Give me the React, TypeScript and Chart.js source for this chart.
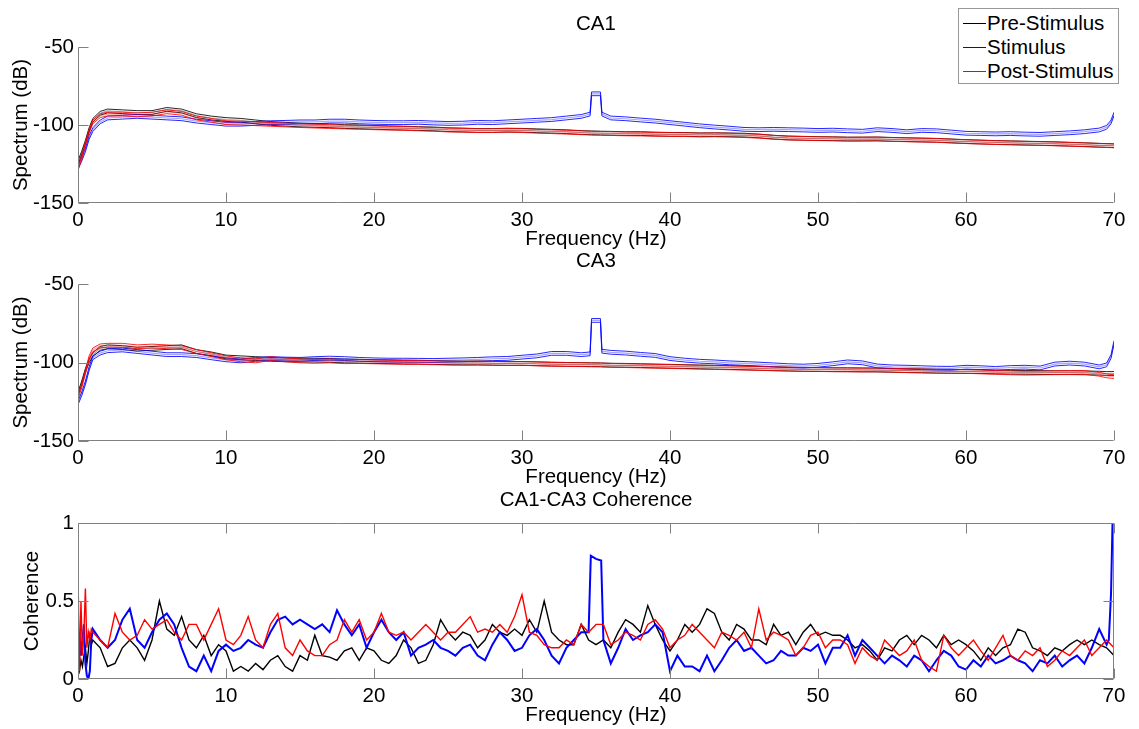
import React, { useEffect, useRef } from 'react';
import { Chart, registerables } from 'chart.js';

Chart.register(...registerables);

// ---------- data ----------
const SERIES_NAMES = ['Pre-Stimulus', 'Stimulus', 'Post-Stimulus'];
const SERIES_COLORS = ['#000000', '#0000ff', '#ff0000'];

const range = (a: number, b: number) => { const r: number[] = []; for (let v = a; v <= b; v++) r.push(v); return r; };

// spectrum frequency grid (Hz)
const SPEC_FREQ = [0, 0.25, 0.5, 0.75, 1, 1.5, 2, ...range(3, 34), 34.6, 34.7, 35.3, 35.4, ...range(36, 69), 69.5, 69.8, 70];

// CA1 spectra (dB)
const CA1_PRE = [
  -124, -118, -111, -103, -97, -92.5, -91,
  -91.5, -92, -92, -90, -91, -94, -95.5, -96.5, -97, -98,
  -99, -99.5, -100, -100.3, -100.5, -101, -101.2, -101.5, -101.8, -102,
  -102.3, -102.5, -103, -103.2, -103.5, -103.5, -103.3, -103.4, -103.7, -104,
  -104.3, -104.8, -105, -105, -105.2, -105.2, -105.3, -105.5, -105.5, -105.8,
  -106, -106, -106.3, -106.2, -106.3, -106.5, -107, -107.8, -108.3, -108.5,
  -108.7, -108.8, -109, -109, -108.9, -109.2, -109.4, -109.6, -109.8, -110.2,
  -110.6, -110.9, -111.2, -111.4, -111.6, -111.8, -112, -112.3, -112.6, -113,
  -113.1, -113.2, -113.3,
];
const CA1_STIM = [
  -127, -122, -116, -108, -103, -98, -95.5,
  -95, -94.5, -95, -95.5, -96, -97.5, -98.5, -99.5, -99.5, -99,
  -98.5, -98.3, -98, -98, -97.5, -97.5, -98, -98.3, -98.5, -98.5,
  -98.3, -98.7, -99, -98.8, -98.3, -98.5, -98, -97.5, -97, -96.5,
  -95.5, -94.5, -93, -80, -80, -93, -95.5, -96, -96.8, -97.5,
  -98.5, -99.5, -100.5, -101.3, -102, -102.8, -103, -102.8, -103, -103.2,
  -103.5, -103.3, -103.7, -104, -103, -103.5, -104.3, -103.5, -103.7, -104.5,
  -105.3, -105.5, -105.7, -105.5, -105.8, -106, -105.5, -105, -104.3, -103.2,
  -101.5, -98, -93,
];
const CA1_POST = [
  -128, -121, -112, -104, -98, -94, -93,
  -93, -93.5, -93, -91.5, -92.5, -95.5, -97, -98.5, -98.8, -99.2,
  -99.6, -100, -100.4, -100.7, -101, -101.3, -101.5, -101.8, -102, -102.2,
  -102.5, -102.8, -103.2, -103.4, -103.6, -103.6, -103.4, -103.6, -104, -104.3,
  -104.6, -105, -105.2, -105.3, -105.3, -105.4, -105.5, -105.7, -105.8, -106,
  -106.1, -106.2, -106.4, -106.3, -106.5, -106.8, -107.2, -107.9, -108.4, -108.6,
  -108.8, -108.9, -109.1, -109, -109, -109.3, -109.5, -109.7, -109.9, -110.3,
  -110.7, -111, -111.3, -111.5, -111.7, -111.9, -112.1, -112.4, -112.7, -113,
  -113.2, -113.3, -113.4,
];

// CA3 spectra (dB)
const CA3_PRE = [
  -120, -113, -105, -99, -95, -91, -90,
  -90.5, -91.5, -91, -90.5, -90, -93, -94.5, -96.5, -97, -97.5,
  -98, -98.3, -98.5, -98.5, -98.7, -99, -99.2, -99.4, -99.5, -99.7,
  -99.8, -100, -100.2, -100.3, -100.3, -100.5, -100.6, -100.6, -100.8, -101,
  -101.2, -101.3, -101.4, -101.4, -101.5, -101.5, -101.7, -101.8, -102, -102.2,
  -102.4, -102.6, -102.8, -103, -103.2, -103.4, -103.7, -104, -104.2, -104.4,
  -104.5, -104.6, -104.6, -104.7, -104.8, -105, -105.2, -105.3, -105.5, -105.6,
  -105.7, -105.8, -106, -106.2, -106.3, -106.4, -106.5, -106.5, -106.6, -106.8,
  -107, -107, -107,
];
const CA3_STIM = [
  -125.7, -120, -113, -104, -97, -94, -92.5,
  -92, -93, -94, -95, -95, -95.6, -97, -98.3, -99, -98,
  -97.5, -97.8, -98, -97.5, -97.2, -97.5, -98, -98.3, -98.5, -98.5,
  -98.6, -98.7, -98.5, -98.3, -98, -97.6, -97.4, -96.6, -95.8, -94.2,
  -94.2, -95, -94.5, -73.2, -73.2, -92.8, -93.5, -94, -94.8, -95.5,
  -97.5, -98.5, -99.2, -99.6, -100.2, -100.6, -101, -101.5, -102, -102.3,
  -101.8, -100.8, -99.6, -100.2, -102.2, -102.8, -103, -103.3, -103.6, -103.7,
  -103, -103.3, -103.8, -103.2, -103, -103.5, -101, -100.4, -101, -102.8,
  -101.5, -96.2, -87.3,
];
const CA3_POST = [
  -122, -115, -106, -97, -92, -89.4, -89,
  -89, -90, -89.5, -90, -90.5, -93, -95, -97, -98.3, -99,
  -97.5, -98.3, -99, -99.3, -99, -99.5, -99.4, -99.6, -99.8, -100,
  -100, -100.2, -100.4, -100.5, -100.4, -100.5, -100.7, -100.6, -100.9, -101.2,
  -101.3, -101.4, -101.5, -101.5, -101.5, -101.6, -101.8, -102, -102.2, -102.4,
  -102.6, -102.8, -103, -103.2, -103.4, -103.6, -103.8, -104, -104.2, -104.4,
  -104.5, -104.6, -104.7, -104.8, -104.7, -104.9, -105.2, -105.4, -105.6, -105.7,
  -105.7, -106, -106.3, -106.6, -106.8, -106.7, -106.5, -106.4, -106.3, -107.5,
  -108.5, -108.8, -109,
];

// half-width of the confidence band drawn around each spectrum (dB): pre, stim, post
const CA1_CI = [1.2, 1.2, 1.2];
const CA3_CI = [1.2, 1.2, 1.2];

// coherence: fine grid below 1 Hz
const COH_LOW_FREQ = [0, 0.1, 0.2, 0.3, 0.4, 0.5, 0.6, 0.7, 0.8, 0.9];
const COH_LOW_PRE = [0.02, 0.05, 0.12, 0.08, 0.15, 0.2, 0.1, 0.18, 0.28, 0.22];
const COH_LOW_STIM = [0.05, 0.3, 0.15, 0.25, 0.35, 0.1, 0.02, 0.0, 0.05, 0.25];
const COH_LOW_POST = [0.68, 0.05, 0.5, 0.15, 0.3, 0.58, 0.2, 0.3, 0.25, 0.32];

// coherence: 1 Hz .. 70 Hz every 0.5 Hz
const COH_FREQ = Array.from({ length: 139 }, (_, i) => 1 + i * 0.5);
const COH_PRE = [
  0.25, 0.2, 0.08, 0.1, 0.2, 0.25, 0.2, 0.12, 0.25, 0.5,
  0.32, 0.28, 0.4, 0.25, 0.2, 0.28, 0.15, 0.22, 0.18, 0.05,
  0.08, 0.05, 0.1, 0.06, 0.12, 0.15, 0.08, 0.05, 0.15, 0.12,
  0.28, 0.15, 0.14, 0.12, 0.18, 0.2, 0.12, 0.2, 0.18, 0.12,
  0.1, 0.15, 0.25, 0.2, 0.1, 0.12, 0.22, 0.38, 0.3, 0.25,
  0.3, 0.28, 0.2, 0.25, 0.35, 0.3, 0.28, 0.32, 0.28, 0.38,
  0.3, 0.5, 0.3, 0.25, 0.22, 0.22, 0.35, 0.25, 0.22, 0.25,
  0.2, 0.3, 0.38, 0.35, 0.3, 0.47, 0.35, 0.25, 0.18, 0.25,
  0.35, 0.3, 0.35, 0.45, 0.42, 0.3, 0.25, 0.35, 0.32, 0.25,
  0.25, 0.22, 0.35, 0.28, 0.3, 0.22, 0.3, 0.35, 0.28, 0.3,
  0.28, 0.28, 0.25, 0.2, 0.22, 0.18, 0.12, 0.2, 0.18, 0.25,
  0.28, 0.22, 0.28, 0.25, 0.2, 0.28, 0.22, 0.25, 0.22, 0.18,
  0.12, 0.2, 0.15, 0.2, 0.22, 0.32, 0.3, 0.2, 0.18, 0.15,
  0.2, 0.18, 0.22, 0.25, 0.22, 0.25, 0.22, 0.2, 0.15,
];
const COH_STIM = [
  0.32, 0.25, 0.2, 0.25, 0.38, 0.45, 0.25, 0.2, 0.3, 0.38,
  0.42, 0.35, 0.2, 0.08, 0.05, 0.15, 0.05, 0.18, 0.22, 0.18,
  0.2, 0.25, 0.22, 0.2, 0.3, 0.38, 0.4, 0.35, 0.38, 0.35,
  0.32, 0.35, 0.3, 0.44, 0.35, 0.28, 0.35, 0.2, 0.3, 0.38,
  0.3, 0.25, 0.3, 0.15, 0.2, 0.22, 0.25, 0.2, 0.18, 0.15,
  0.2, 0.22, 0.15, 0.12, 0.22, 0.3, 0.25, 0.18, 0.2, 0.28,
  0.32, 0.25, 0.15, 0.1, 0.2, 0.25, 0.3, 0.3, 0.77, 0.25,
  0.1, 0.2, 0.32, 0.25, 0.28, 0.3, 0.35, 0.3, 0.05, 0.15,
  0.08, 0.08, 0.05, 0.15, 0.05, 0.12, 0.2, 0.25, 0.18, 0.2,
  0.15, 0.1, 0.12, 0.18, 0.15, 0.15, 0.2, 0.18, 0.22, 0.1,
  0.2, 0.2, 0.28, 0.15, 0.25, 0.2, 0.15, 0.1, 0.15, 0.12,
  0.08, 0.15, 0.12, 0.05, 0.12, 0.18, 0.15, 0.08, 0.06, 0.12,
  0.08, 0.15, 0.1, 0.12, 0.15, 0.12, 0.1, 0.05, 0.12, 0.1,
  0.15, 0.08, 0.12, 0.15, 0.1, 0.2, 0.32, 0.22, 1.0,
];
// extra detail on the stimulus curve (35 Hz peak and the rise at 70 Hz): [Hz, coherence]
const COH_STIM_EXTRA: [number, number][] = [[34.65, 0.79], [35.35, 0.76], [69.65, 0.25], [69.8, 0.55], [69.9, 1.0]];
const COH_POST = [
  0.3, 0.25, 0.2, 0.42, 0.3, 0.25, 0.28, 0.38, 0.32, 0.35,
  0.38, 0.3, 0.25, 0.35, 0.35, 0.25, 0.35, 0.45, 0.25, 0.22,
  0.28, 0.4, 0.25, 0.2, 0.35, 0.42, 0.2, 0.15, 0.25, 0.18,
  0.15, 0.15, 0.22, 0.25, 0.38, 0.3, 0.38, 0.25, 0.3, 0.42,
  0.3, 0.28, 0.3, 0.25, 0.3, 0.35, 0.3, 0.25, 0.3, 0.3,
  0.35, 0.4, 0.3, 0.32, 0.3, 0.35, 0.3, 0.4, 0.54, 0.3,
  0.28, 0.22, 0.2, 0.2, 0.25, 0.22, 0.35, 0.3, 0.35, 0.35,
  0.22, 0.25, 0.3, 0.28, 0.25, 0.35, 0.38, 0.32, 0.2, 0.25,
  0.28, 0.35, 0.3, 0.25, 0.2, 0.3, 0.28, 0.25, 0.3, 0.2,
  0.45, 0.25, 0.3, 0.28, 0.25, 0.15, 0.2, 0.28, 0.3, 0.2,
  0.25, 0.25, 0.22, 0.1, 0.2, 0.15, 0.12, 0.25, 0.2, 0.15,
  0.18, 0.25, 0.12, 0.08, 0.05, 0.28, 0.2, 0.15, 0.2, 0.25,
  0.18, 0.12, 0.2, 0.28, 0.15, 0.12, 0.18, 0.15, 0.2, 0.08,
  0.12, 0.18, 0.15, 0.2, 0.25, 0.15, 0.2, 0.25, 0.2,
];

const SPEC_Y_TICKS = [-150, -100, -50];
const COH_Y_TICKS = [0, 0.5, 1];

// ---------- styling ----------
const FONT_FAMILY = '"Liberation Sans", Arial, Helvetica, sans-serif';
const FONT_SIZE = 20.5;
const AXIS_COLOR = '#808080';
const W = 1139;

const withAlpha = (hex: string, a: number) => {
  const n = parseInt(hex.slice(1), 16);
  return `rgba(${(n >> 16) & 255},${(n >> 8) & 255},${n & 255},${a})`;
};

const matlabAxes = {
  id: 'matlabAxes',
  afterDatasetsDraw(chart: any, _args: any, opts: any) {
    const { ctx, chartArea: a, scales } = chart;
    const xs = scales.x, ys = scales.y;
    const L = Math.round(a.left) + 0.5, R = Math.round(a.right) - 0.5;
    const T = Math.round(a.top) + 0.5, B = Math.round(a.bottom) - 0.5;
    const TL = 10;
    ctx.save();
    ctx.strokeStyle = AXIS_COLOR;
    ctx.lineWidth = 1;
    ctx.beginPath();
    ctx.moveTo(L, T); ctx.lineTo(L, B); ctx.lineTo(R, B);
    if (opts.box) { ctx.lineTo(R, T); ctx.lineTo(L, T); }
    xs.ticks.forEach((t: any) => {
      const px = Math.round(xs.getPixelForValue(t.value)) + 0.5;
      ctx.moveTo(px, B); ctx.lineTo(px, B - TL);
      if (opts.box) { ctx.moveTo(px, T); ctx.lineTo(px, T + TL); }
    });
    ys.ticks.forEach((t: any) => {
      const py = Math.round(ys.getPixelForValue(t.value)) + 0.5;
      ctx.moveTo(L, py); ctx.lineTo(L + TL, py);
      if (opts.box) { ctx.moveTo(R, py); ctx.lineTo(R - TL, py); }
    });
    ctx.stroke();
    ctx.fillStyle = '#000';
    ctx.font = `${FONT_SIZE}px ${FONT_FAMILY}`;
    ctx.textAlign = 'center';
    ctx.textBaseline = 'middle';
    const cx = (a.left + a.right) / 2;
    ctx.fillText(opts.title, cx, a.top - 22.5);
    ctx.fillText(opts.xLabel, cx, a.bottom + 36.5);
    ctx.translate(a.left - opts.yLabelOffset, (a.top + a.bottom) / 2);
    ctx.rotate(-Math.PI / 2);
    ctx.fillText(opts.yLabel, 0, 0);
    ctx.restore();
  },
};

function spectrumDatasets(series: number[][], ci: number[]) {
  const out: any[] = [];
  series.forEach((vals, s) => {
    const color = SERIES_COLORS[s];
    const mk = (d: number, c: string, w: number) => ({
      data: vals.map((v, i) => ({ x: SPEC_FREQ[i], y: v + d })),
      borderColor: c, borderWidth: w, pointRadius: 0, fill: false, tension: 0,
    });
    out.push(mk(ci[s], withAlpha(color, 0.85), 1));
    out.push(mk(-ci[s], withAlpha(color, 0.85), 1));
    out.push(mk(0, withAlpha(color, 0.35), 1.2));
  });
  return out.reverse(); // first dataset is drawn on top
}

function cohPoints(low: number[], main: number[], extra: [number, number][] = []) {
  const pts = [
    ...COH_LOW_FREQ.map((f, i) => ({ x: f, y: low[i] })),
    ...COH_FREQ.map((f, i) => ({ x: f, y: main[i] })),
    ...extra.map(([f, v]) => ({ x: f, y: v })),
  ];
  return pts.sort((p, q) => p.x - q.x);
}

function makeConfig(datasets: any[], yMin: number, yMax: number, yTicks: number[], xAxisH: number, plugOpts: any) {
  const font = { family: FONT_FAMILY, size: FONT_SIZE };
  return {
    type: 'line',
    data: { datasets },
    plugins: [matlabAxes],
    options: {
      animation: false,
      responsive: false,
      events: [],
      layout: { padding: { left: 0, right: 25, top: 47, bottom: 0 } },
      plugins: { legend: { display: false }, tooltip: { enabled: false }, matlabAxes: plugOpts },
      scales: {
        x: {
          type: 'linear', min: 0, max: 70,
          ticks: { stepSize: 10, font, color: '#000', padding: 5, maxRotation: 0, autoSkip: false },
          grid: { display: false, drawTicks: false, tickLength: 0 },
          border: { display: false },
          afterFit: (s: any) => { s.height = xAxisH; },
        },
        y: {
          type: 'linear', min: yMin, max: yMax,
          afterBuildTicks: (s: any) => { s.ticks = yTicks.map((v) => ({ value: v })); },
          ticks: { font, color: '#000', padding: 4, callback: (v: any) => String(Number(v)) },
          grid: { display: false, drawTicks: false, tickLength: 0 },
          border: { display: false },
          afterFit: (s: any) => { s.width = 78; },
        },
      },
    },
  } as any;
}

const PANELS = [
  { top: 0, height: 250, xAxisH: 47 },
  { top: 237, height: 250, xAxisH: 46 },
  { top: 476, height: 253, xAxisH: 50 },
];

export default function App() {
  const r1 = useRef<HTMLCanvasElement>(null);
  const r2 = useRef<HTMLCanvasElement>(null);
  const r3 = useRef<HTMLCanvasElement>(null);

  useEffect(() => {
    const charts: Chart[] = [];
    charts.push(new Chart(r1.current!, makeConfig(
      spectrumDatasets([CA1_PRE, CA1_STIM, CA1_POST], CA1_CI), -150, -50, SPEC_Y_TICKS, PANELS[0].xAxisH,
      { title: 'CA1', xLabel: 'Frequency (Hz)', yLabel: 'Spectrum (dB)', yLabelOffset: 57, box: false })));
    charts.push(new Chart(r2.current!, makeConfig(
      spectrumDatasets([CA3_PRE, CA3_STIM, CA3_POST], CA3_CI), -150, -50, SPEC_Y_TICKS, PANELS[1].xAxisH,
      { title: 'CA3', xLabel: 'Frequency (Hz)', yLabel: 'Spectrum (dB)', yLabelOffset: 57, box: false })));
    const cohSets = [
      { data: cohPoints(COH_LOW_PRE, COH_PRE), color: SERIES_COLORS[0], w: 1.4 },
      { data: cohPoints(COH_LOW_STIM, COH_STIM, COH_STIM_EXTRA), color: SERIES_COLORS[1], w: 2 },
      { data: cohPoints(COH_LOW_POST, COH_POST), color: SERIES_COLORS[2], w: 1.4 },
    ].map((d) => ({ data: d.data, borderColor: d.color, borderWidth: d.w, pointRadius: 0, fill: false, tension: 0 })).reverse();
    charts.push(new Chart(r3.current!, makeConfig(
      cohSets, 0, 1, COH_Y_TICKS, PANELS[2].xAxisH,
      { title: 'CA1-CA3 Coherence', xLabel: 'Frequency (Hz)', yLabel: 'Coherence', yLabelOffset: 45.5, box: true })));
    return () => charts.forEach((c) => c.destroy());
  }, []);

  const refs = [r1, r2, r3];
  return (
    <div style={{ position: 'absolute', left: 0, top: 0, width: W, height: 729, background: '#fff', overflow: 'hidden' }}>
      {PANELS.map((p, i) => (
        <canvas key={i} ref={refs[i]} width={W} height={p.height}
          style={{ position: 'absolute', left: 0, top: p.top, width: W, height: p.height }} />
      ))}
      <div style={{ position: 'absolute', left: 958, top: 8, width: 159, height: 74, border: '1px solid #999', background: '#fff',
        fontFamily: FONT_FAMILY, fontSize: FONT_SIZE, color: '#000', boxSizing: 'content-box' }}>
        {SERIES_NAMES.map((n, i) => (
          <div key={n} style={{ position: 'absolute', left: 0, top: 1.7 + i * 24.2, width: 159, height: 24, lineHeight: '24px', whiteSpace: 'nowrap' }}>
            <div style={{ position: 'absolute', left: 4, top: 12, width: 23, height: 1, background: SERIES_COLORS[i] }} />
            <div style={{ position: 'absolute', left: 28, top: 0, height: 24 }}>{n}</div>
          </div>
        ))}
      </div>
    </div>
  );
}
